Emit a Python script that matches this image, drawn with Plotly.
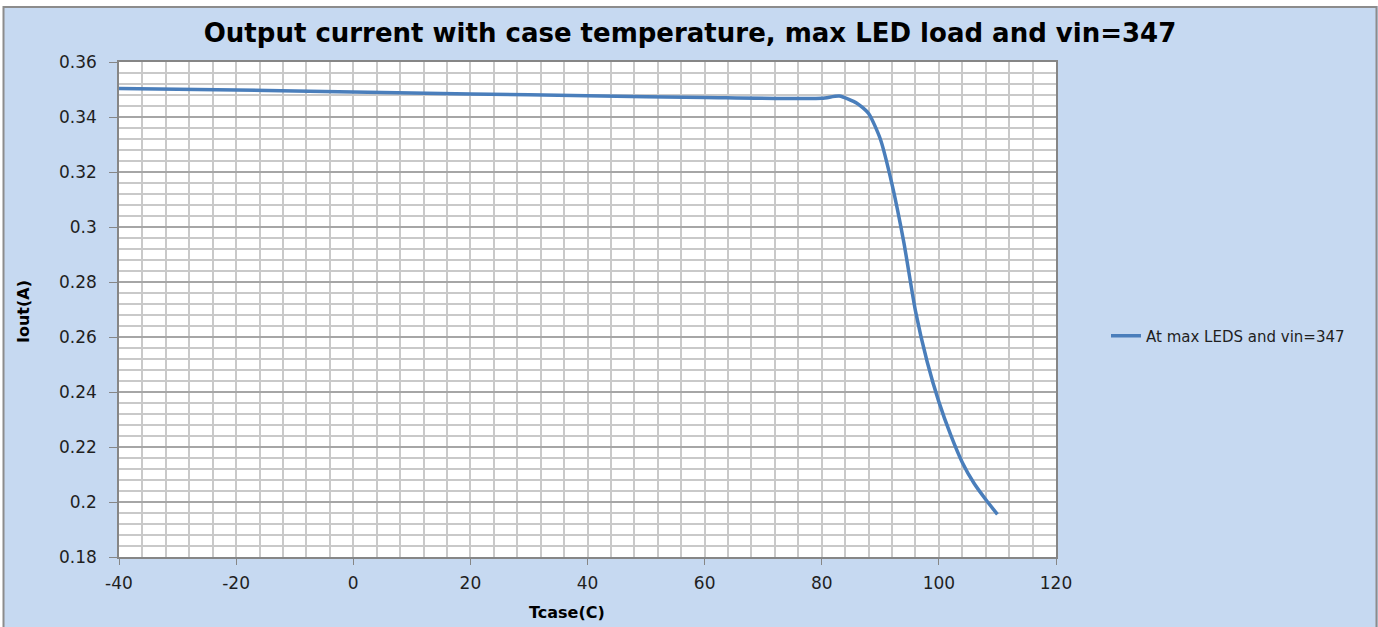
import plotly.graph_objects as go

# ---- data ----
tcase = [-40, -20, 0, 20, 40, 60, 80, 83, 86, 88, 90, 92, 94, 96, 98, 100, 102, 104, 106, 108, 110]
iout = [0.3504, 0.3498, 0.3491, 0.3484, 0.3477, 0.3471, 0.3468, 0.3476, 0.3450, 0.3413,
        0.3320, 0.3155, 0.2946, 0.2695, 0.2510, 0.2364, 0.2245, 0.2144, 0.2068, 0.2009, 0.1955]
series_name = "At max LEDS and vin=347"
title_text = "Output current with case temperature, max LED load and vin=347"
x_ticks = [-40, -20, 0, 20, 40, 60, 80, 100, 120]
x_tick_labels = ["-40", "-20", "0", "20", "40", "60", "80", "100", "120"]
y_ticks = [0.18, 0.20, 0.22, 0.24, 0.26, 0.28, 0.30, 0.32, 0.34, 0.36]
y_tick_labels = ["0.18", "0.2", "0.22", "0.24", "0.26", "0.28", "0.3", "0.32", "0.34", "0.36"]

W, H = 1378, 627
ML, MR, MT, MB = 119, W - 1056, 62, H - 557
PW, PH = W - ML - MR, H - MT - MB

def px(x):
    return (x - ML) / PW

def py(y):
    return (H - MB - y) / PH

BG = "#C6D9F1"
FONT = "DejaVu Sans"
TXT = "#1F1F1F"

fig = go.Figure()
fig.add_trace(go.Scatter(
    x=tcase, y=iout, mode="lines", name=series_name,
    line=dict(color="#4A7EBB", width=3.5, shape="spline", smoothing=0.6),
))

grid_major = "#A6A6A6"
grid_minor = "#C9C9C9"

fig.update_xaxes(
    range=[-40, 120], tickvals=x_ticks, ticktext=x_tick_labels,
    showgrid=True, gridcolor=grid_minor, gridwidth=1.5,
    minor=dict(dtick=4, showgrid=True, gridcolor=grid_minor, gridwidth=1.5, ticks=""),
    ticks="outside", ticklen=6, tickcolor="#868686", ticklabelstandoff=4,
    showline=True, linecolor="#868686", linewidth=1.5, mirror=True,
    tickfont=dict(family=FONT, size=17, color=TXT), zeroline=False,
)
fig.update_yaxes(
    range=[0.18, 0.36], tickvals=y_ticks, ticktext=y_tick_labels,
    showgrid=True, gridcolor=grid_major, gridwidth=1.5,
    minor=dict(dtick=0.004, showgrid=True, gridcolor=grid_minor, gridwidth=1.5, ticks=""),
    ticks="outside", ticklen=8, tickcolor="#868686", ticklabelstandoff=9,
    showline=True, linecolor="#868686", linewidth=1.5, mirror=True,
    tickfont=dict(family=FONT, size=17, color=TXT), zeroline=False,
)

shapes = [
    # white strips outside the chart frame
    dict(type="rect", xref="paper", yref="paper", x0=px(0), x1=px(W), y0=py(0), y1=py(6),
         fillcolor="white", line=dict(width=0), layer="above"),
    dict(type="rect", xref="paper", yref="paper", x0=px(0), x1=px(3), y0=py(0), y1=py(H),
         fillcolor="white", line=dict(width=0), layer="above"),
    # chart frame
    dict(type="rect", xref="paper", yref="paper", x0=px(3.5), x1=px(1376.5), y0=py(7), y1=py(H + 5),
         fillcolor="rgba(0,0,0,0)", line=dict(color="#8C8C8C", width=2), layer="above"),
]

fig.update_layout(
    width=W, height=H,
    margin=dict(l=ML, r=MR, t=MT, b=MB),
    paper_bgcolor=BG, plot_bgcolor="white",
    title=dict(text="<b>" + title_text + "</b>", x=690 / W, xanchor="center",
               y=1 - 33 / H, yanchor="middle",
               font=dict(family=FONT, size=26, color="#000000")),
    showlegend=True,
    legend=dict(x=px(1106), y=py(336), xanchor="left", yanchor="middle",
                bgcolor="rgba(0,0,0,0)", font=dict(family=FONT, size=15, color=TXT)),
    shapes=shapes,
    annotations=[
        dict(text="<b>Iout(A)</b>", xref="paper", yref="paper", x=px(23), y=py(312),
             showarrow=False, textangle=-90, xanchor="center", yanchor="middle",
             font=dict(family=FONT, size=16, color="#000000")),
        dict(text="<b>Tcase(C)</b>", xref="paper", yref="paper", x=px(567), y=py(612),
             showarrow=False, xanchor="center", yanchor="middle",
             font=dict(family=FONT, size=16, color="#000000")),
    ],
)

fig.write_html("out.html", config={"displayModeBar": False},
               post_script="document.body.style.margin='0px';")
